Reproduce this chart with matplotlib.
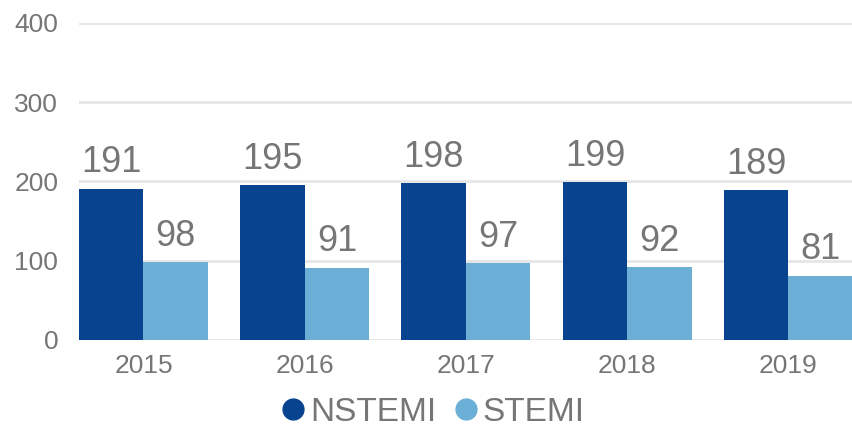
import matplotlib.pyplot as plt
from matplotlib.lines import Line2D
import numpy as np

plt.rcParams['font.family'] = ['Liberation Sans', 'DejaVu Sans']

years = ['2015', '2016', '2017', '2018', '2019']
nstemi = [191, 195, 198, 199, 189]
stemi = [98, 91, 97, 92, 81]

dark = '#08438F'
light = '#6BAED6'
grey = '#767676'

fig = plt.figure(figsize=(8.53, 4.33), dpi=100)
ax = fig.add_axes([0.0926, 0.215, 0.9074, 0.732])

x = np.arange(len(years))
w = 0.4
b1 = ax.bar(x - w / 2, nstemi, w, color=dark, zorder=3)
b2 = ax.bar(x + w / 2, stemi, w, color=light, zorder=3)

for bars, vals in [(b1, nstemi), (b2, stemi)]:
    for r, v in zip(bars, vals):
        ax.annotate(str(v), (r.get_x() + r.get_width() / 2, v),
                    xytext=(0, 6), textcoords='offset points',
                    ha='center', va='bottom', fontsize=26, color=grey)

ax.set_xlim(-0.4, 4.4)
ax.set_ylim(0, 400)
ax.set_yticks([0, 100, 200, 300, 400])
ax.set_xticks(x)
ax.set_xticklabels(years)
ax.grid(axis='y', color='#E6E6E6', linewidth=2, zorder=0)
for s in ax.spines.values():
    s.set_visible(False)
ax.tick_params(axis='both', length=0, labelsize=19, colors=grey)
ax.tick_params(axis='y', pad=15)
ax.tick_params(axis='x', pad=10)

handles = [Line2D([], [], marker='o', linestyle='', markersize=15, color=dark),
           Line2D([], [], marker='o', linestyle='', markersize=15, color=light)]
fig.legend(handles, ['NSTEMI', 'STEMI'], loc='lower center', ncol=2,
           bbox_to_anchor=(0.505, -0.058), frameon=False, fontsize=24,
           labelcolor=grey, handletextpad=0.0, columnspacing=0.4,
           handlelength=1.0)

fig.savefig('out.png', dpi=100)
